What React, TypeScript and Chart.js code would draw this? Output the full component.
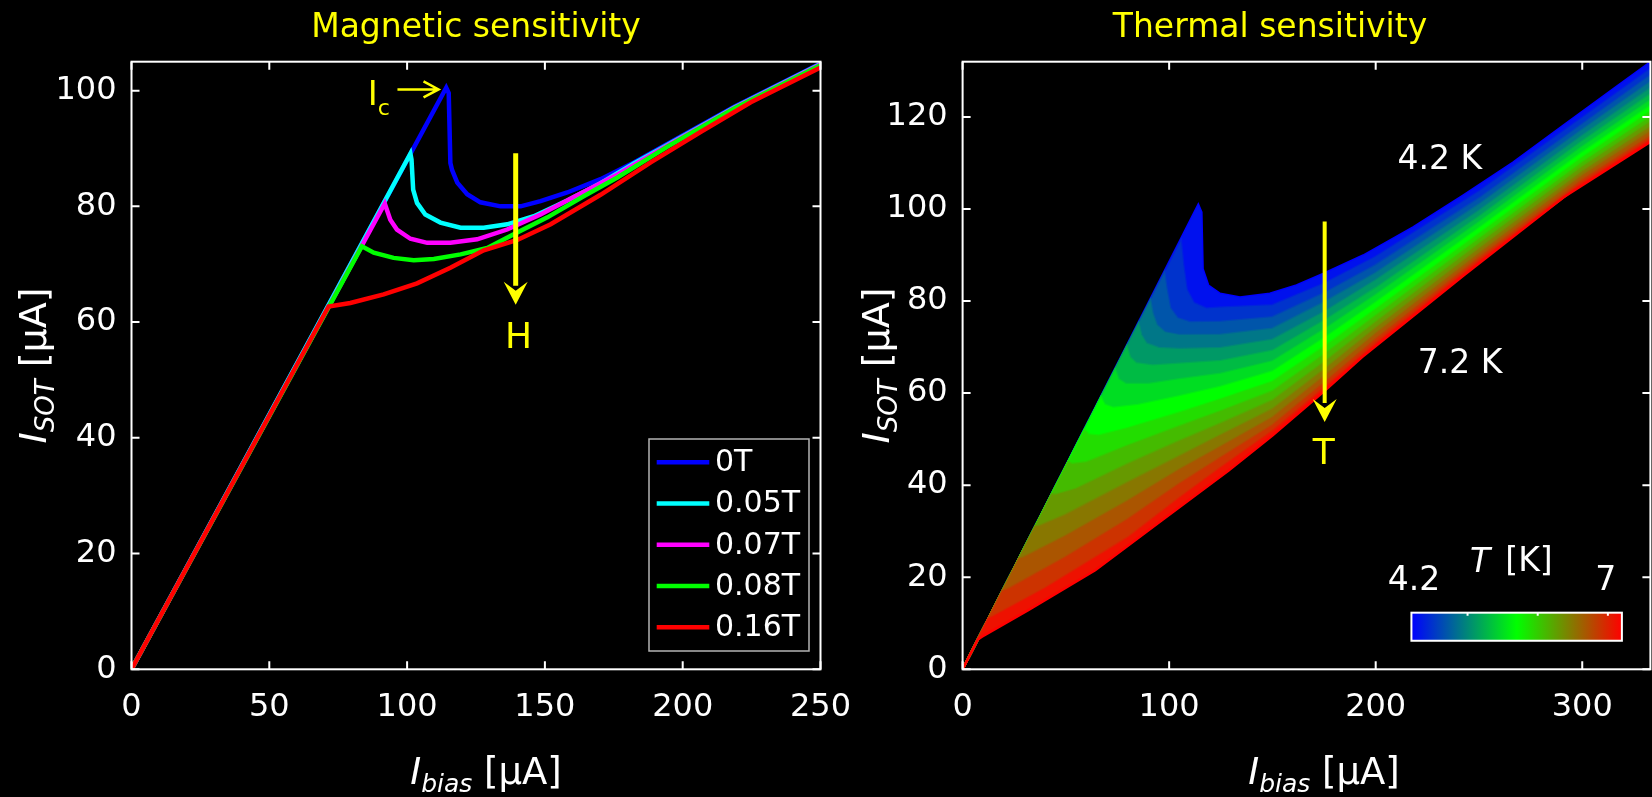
import React, { useEffect, useRef } from 'react';
import { Chart, registerables } from 'chart.js';
Chart.register(...registerables);

const FONT = "'DejaVu Sans', sans-serif";

// ---------- Left panel: magnetic sensitivity ----------
const MAG_LABELS = ['0T', '0.05T', '0.07T', '0.08T', '0.16T'];
const MAG_COLORS = ['#0000ff', '#00ffff', '#ff00ff', '#00ff00', '#ff0000'];
const MAG_X_TICKS = [0, 50, 100, 150, 200, 250];
const MAG_Y_TICKS = [0, 20, 40, 60, 80, 100];

const MAG_0T: number[][] = [[0, 0], [114.2, 100.5], [115.1, 99.6], [115.7, 87.5], [116.3, 86.3], [118.2, 84.1], [121.8, 82.1], [126.6, 80.7], [133.9, 80.0], [141.2, 80.0], [148.4, 80.9], [158.1, 82.4], [170.2, 84.7], [182.3, 87.6], [194.4, 90.8], [218.7, 97.2], [250, 104.7]];
const MAG_005T: number[][] = [[0, 0], [101.2, 89.1], [101.6, 88.1], [102.2, 82.9], [103.6, 80.6], [106.6, 78.6], [112.1, 77.2], [119.4, 76.3], [127.8, 76.3], [136.3, 76.9], [146, 78.3], [158.1, 81.0], [170.2, 84.0], [182.3, 87.4], [194.4, 90.6], [218.7, 97.1], [250, 104.6]];
const MAG_007T: number[][] = [[0, 0], [91.9, 80.5], [93.9, 77.7], [96.3, 76.0], [101.2, 74.4], [107.3, 73.7], [115.7, 73.7], [125.4, 74.3], [136.3, 76.0], [148.4, 78.6], [160.5, 81.6], [176.3, 85.5], [194.4, 90.5], [218.7, 97.0], [250, 104.5]];
const MAG_008T: number[][] = [[0, 0], [83.6, 73.1], [87.9, 72.0], [95.1, 71.1], [102.4, 70.7], [109.7, 70.9], [119.4, 71.7], [129.1, 72.8], [138.7, 75.2], [150.9, 78.1], [164.2, 81.8], [176.3, 85.0], [194.4, 90.3], [218.7, 96.9], [250, 104.4]];
const MAG_016T: number[][] = [[0, 0], [71.5, 62.7], [79.4, 63.3], [91.5, 64.8], [103.6, 66.7], [115.7, 69.4], [127.8, 72.4], [140, 74.2], [152.1, 76.9], [170.2, 82.0], [188.4, 87.6], [206.6, 92.9], [224.7, 98.0], [250, 104.0]];
const MAG_SERIES = [MAG_0T, MAG_005T, MAG_007T, MAG_008T, MAG_016T];

// ---------- Right panel: thermal sensitivity ----------
const TH_X_TICKS = [0, 100, 200, 300];
const TH_Y_TICKS = [0, 20, 40, 60, 80, 100, 120];
const TEMPS = [4.2, 4.4, 4.6, 4.8, 5.0, 5.2, 5.4, 5.6, 5.8, 6.0, 6.2, 6.4, 6.6, 6.8, 7.0, 7.2];
const CBAR_MIN = 4.2;
const CBAR_MAX = 7.2;
const CBAR_TICKS = [5, 6, 7];

const TH_42: number[][] = [[0, 0], [114.1, 100.9], [115.6, 99.3], [116.2, 87], [118.9, 83.4], [124.6, 81.6], [134.3, 80.8], [148.8, 81.6], [161.7, 83.4], [174.6, 85.9], [194, 89.9], [218.2, 96], [242.4, 102.9], [266.6, 110.1], [290.8, 118.1], [315, 126], [333, 131.9]];
const TH_44: number[][] = [[0, 0], [105.7, 93], [106.8, 88], [108.5, 82.5], [112, 79.6], [118, 78.4], [125, 78.6], [150, 79.1], [175, 83.8], [200, 89.6], [250, 103.8], [300, 119.8], [333, 130.4]];
const TH_46: number[][] = [[0, 0], [97.7, 86], [98.8, 82.5], [100.5, 78.5], [104, 76.3], [110, 75.4], [125, 75.5], [150, 76.5], [175, 81.7], [200, 87.8], [250, 102.3], [300, 118.4], [333, 129.0]];
const TH_48: number[][] = [[0, 0], [90.9, 80], [92, 77.3], [94, 74.8], [98, 73.2], [105, 72.6], [125, 72.7], [150, 74.0], [175, 79.7], [200, 86.1], [250, 101.0], [300, 117.2], [333, 127.6]];
const TH_50: number[][] = [[0, 0], [85.2, 75], [86.5, 72.6], [89, 70.8], [95, 69.8], [105, 69.6], [125, 69.8], [150, 71.6], [175, 77.6], [200, 84.5], [250, 99.6], [300, 115.9], [333, 126.2]];
const TH_52: number[][] = [[0, 0], [79.5, 70], [81, 67.8], [84, 66.5], [92, 66.0], [105, 66.4], [125, 67.0], [150, 69.2], [175, 75.7], [200, 82.8], [250, 98.3], [300, 114.7], [333, 124.9]];
const TH_54: number[][] = [[0, 0], [73.9, 65], [75.5, 63], [79, 62], [90, 62.0], [105, 63.0], [125, 64.2], [150, 66.9], [175, 73.8], [200, 81.3], [250, 97.1], [300, 113.5], [333, 123.6]];
const TH_56: number[][] = [[0, 0], [67, 59], [68.8, 57.5], [73, 56.8], [85, 57.4], [105, 59.3], [125, 61.4], [150, 64.7], [175, 71.9], [200, 79.7], [250, 95.8], [300, 112.3], [333, 122.4]];
const TH_58: number[][] = [[0, 0], [59.1, 52], [61, 51.0], [66, 50.8], [80, 52.4], [105, 55.8], [125, 58.7], [150, 62.5], [175, 70.1], [200, 78.2], [250, 94.6], [300, 111.2], [333, 121.2]];
const TH_60: number[][] = [[0, 0], [51.1, 45], [53, 44.6], [60, 45.0], [80, 48.6], [105, 52.8], [125, 56.1], [150, 60.4], [175, 68.4], [200, 76.8], [250, 93.5], [300, 110.1], [333, 120.0]];
const TH_62: number[][] = [[0, 0], [43.2, 38], [45, 37.9], [55, 39.2], [80, 44.6], [105, 49.6], [125, 53.4], [150, 58.4], [175, 66.7], [200, 75.4], [250, 92.4], [300, 109.1], [333, 118.9]];
const TH_64: number[][] = [[0, 0], [35.2, 31], [37, 31.1], [50, 33.6], [80, 40.6], [105, 46.3], [125, 50.9], [150, 56.5], [175, 65.1], [200, 74.1], [250, 91.3], [300, 108.1], [333, 117.8]];
const TH_66: number[][] = [[0, 0], [27.3, 24], [29.5, 24.3], [50, 29.0], [80, 36.6], [105, 43.4], [125, 48.4], [150, 54.7], [175, 63.6], [200, 72.9], [250, 90.3], [300, 107.2], [333, 116.8]];
const TH_68: number[][] = [[0, 0], [19.3, 17], [22, 17.4], [50, 24.4], [80, 32.6], [105, 40.3], [125, 46.0], [150, 53.0], [175, 62.2], [200, 71.7], [250, 89.4], [300, 106.3], [333, 115.8]];
const TH_70: number[][] = [[0, 0], [12.5, 11], [15, 11.5], [40, 17.6], [80, 28.6], [105, 37.2], [125, 43.8], [150, 51.7], [175, 61.1], [200, 70.8], [250, 88.7], [300, 105.6], [333, 115.1]];
const TH_72: number[][] = [[0, 0], [7.4, 6.5], [9.4, 7.1], [32, 12.9], [64.2, 21.5], [96.5, 32.4], [128.8, 43.2], [150, 50.8], [175, 60.4], [193.3, 67.8], [242.4, 85.5], [290.8, 102.5], [333, 114.6]];
const TH_SERIES = [TH_42, TH_44, TH_46, TH_48, TH_50, TH_52, TH_54, TH_56, TH_58, TH_60, TH_62, TH_64, TH_66, TH_68, TH_70, TH_72];

function tempColor(T: number) {
  const f = Math.min(1, Math.max(0, (T - CBAR_MIN) / (CBAR_MAX - CBAR_MIN)));
  let r = 0, g = 0, b = 0;
  if (f < 0.5) { const t = f / 0.5; g = 255 * t; b = 255 * (1 - t); }
  else { const t = (f - 0.5) / 0.5; r = 255 * t; g = 255 * (1 - t); }
  return `rgb(${Math.round(r)},${Math.round(g)},${Math.round(b)})`;
}

type Part = { t: string; size: number; italic?: boolean; dy?: number };

function drawRich(ctx: CanvasRenderingContext2D, parts: Part[], x: number, y: number, color: string, rotate = false) {
  ctx.save();
  ctx.fillStyle = color;
  ctx.textBaseline = 'alphabetic';
  ctx.textAlign = 'left';
  const widths = parts.map((p) => {
    ctx.font = `${p.italic ? 'italic ' : ''}${p.size}px ${FONT}`;
    return ctx.measureText(p.t).width;
  });
  const total = widths.reduce((a, b) => a + b, 0);
  ctx.translate(x, y);
  if (rotate) ctx.rotate(-Math.PI / 2);
  let cx = -total / 2;
  parts.forEach((p, i) => {
    ctx.font = `${p.italic ? 'italic ' : ''}${p.size}px ${FONT}`;
    ctx.fillText(p.t, cx, p.dy || 0);
    cx += widths[i];
  });
  ctx.restore();
}

function drawFrame(chart: any) {
  const { ctx, chartArea: a, scales } = chart;
  ctx.save();
  ctx.strokeStyle = '#ffffff';
  ctx.lineWidth = 2;
  ctx.strokeRect(a.left, a.top, a.right - a.left, a.bottom - a.top);
  const L = 8;
  ctx.beginPath();
  for (const t of scales.x.ticks) {
    const px = scales.x.getPixelForValue(t.value);
    ctx.moveTo(px, a.bottom); ctx.lineTo(px, a.bottom - L);
    ctx.moveTo(px, a.top); ctx.lineTo(px, a.top + L);
  }
  for (const t of scales.y.ticks) {
    const py = scales.y.getPixelForValue(t.value);
    ctx.moveTo(a.left, py); ctx.lineTo(a.left + L, py);
    ctx.moveTo(a.right, py); ctx.lineTo(a.right - L, py);
  }
  ctx.stroke();
  ctx.restore();
}

function downArrow(chart: any, xv: number, yTop: number, yTip: number, w: number) {
  const { ctx, scales } = chart;
  const x = scales.x.getPixelForValue(xv);
  const y0 = scales.y.getPixelForValue(yTop);
  const y1 = scales.y.getPixelForValue(yTip);
  const hl = 23, hw = 12;
  ctx.save();
  ctx.strokeStyle = '#ffff00';
  ctx.fillStyle = '#ffff00';
  ctx.lineWidth = w;
  ctx.beginPath();
  ctx.moveTo(x, y0); ctx.lineTo(x, y1 - hl + 4);
  ctx.stroke();
  ctx.beginPath();
  ctx.moveTo(x, y1);
  ctx.lineTo(x - hw, y1 - hl);
  ctx.lineTo(x, y1 - hl + 9);
  ctx.lineTo(x + hw, y1 - hl);
  ctx.closePath();
  ctx.fill();
  ctx.restore();
}

function axisTitles(chart: any, xCenter: number, yBaseX: number, ySub: string) {
  const { ctx, chartArea: a } = chart;
  drawRich(ctx, [
    { t: 'I', size: 37, italic: true },
    { t: 'bias', size: 25, italic: true, dy: 8 },
    { t: ' [µA]', size: 37 },
  ], xCenter, 784, '#ffffff');
  drawRich(ctx, [
    { t: 'I', size: 38, italic: true },
    { t: ySub, size: 26, italic: true, dy: 8 },
    { t: ' [µA]', size: 38 },
  ], yBaseX, (a.top + a.bottom) / 2, '#ffffff', true);
}

const leftDecor = {
  id: 'leftDecor',
  afterDraw(chart: any) {
    const { ctx, chartArea: a, scales } = chart;
    drawFrame(chart);
    ctx.save();
    ctx.font = `33px ${FONT}`;
    ctx.fillStyle = '#ffff00';
    ctx.textAlign = 'center';
    ctx.fillText('Magnetic sensitivity', 476, 37);
    ctx.restore();
    axisTitles(chart, 486, 46, 'SOT');

    // I_c annotation
    const sx = (v: number) => scales.x.getPixelForValue(v);
    const sy = (v: number) => scales.y.getPixelForValue(v);
    drawRich(ctx, [{ t: 'I', size: 34 }, { t: 'c', size: 22, dy: 10 }], sx(89.7), sy(97.6), '#ffff00');
    const ax0 = sx(96.5), ax1 = sx(111.4), ay = sy(100.2);
    ctx.save();
    ctx.strokeStyle = '#ffff00';
    ctx.lineWidth = 2.5;
    ctx.beginPath();
    ctx.moveTo(ax0, ay); ctx.lineTo(ax1, ay);
    ctx.moveTo(ax1 - 15, ay - 8); ctx.lineTo(ax1, ay); ctx.lineTo(ax1 - 15, ay + 8);
    ctx.stroke();
    ctx.restore();

    downArrow(chart, 139.4, 89.2, 63.0, 5);
    ctx.save();
    ctx.font = `36px ${FONT}`;
    ctx.fillStyle = '#ffff00';
    ctx.textAlign = 'center';
    ctx.fillText('H', sx(140.4), sy(55.6));
    ctx.restore();

    // legend
    const bw = 160, bh = 212;
    const bx = a.right - 11.5 - bw, by = a.bottom - 18.3 - bh;
    ctx.save();
    ctx.fillStyle = '#000';
    ctx.fillRect(bx, by, bw, bh);
    ctx.strokeStyle = '#b4b4b4';
    ctx.lineWidth = 1.5;
    ctx.strokeRect(bx, by, bw, bh);
    ctx.font = `30px ${FONT}`;
    ctx.textBaseline = 'middle';
    ctx.textAlign = 'left';
    MAG_LABELS.forEach((lab, i) => {
      const ly = by + 23.3 + i * 41.25;
      ctx.strokeStyle = MAG_COLORS[i];
      ctx.lineWidth = 4.5;
      ctx.beginPath();
      ctx.moveTo(bx + 7.7, ly); ctx.lineTo(bx + 60.3, ly);
      ctx.stroke();
      ctx.fillStyle = '#fff';
      ctx.fillText(lab, bx + 66, ly + 1);
    });
    ctx.restore();
  },
};

const rightDecor = {
  id: 'rightDecor',
  afterDraw(chart: any) {
    const { ctx, scales } = chart;
    drawFrame(chart);
    ctx.save();
    ctx.font = `33px ${FONT}`;
    ctx.fillStyle = '#ffff00';
    ctx.textAlign = 'center';
    ctx.fillText('Thermal sensitivity', 444, 37);
    ctx.restore();
    axisTitles(chart, 498, 63, 'SOT');

    const sx = (v: number) => scales.x.getPixelForValue(v);
    const sy = (v: number) => scales.y.getPixelForValue(v);
    downArrow(chart, 175.3, 97.3, 53.7, 4);
    ctx.save();
    ctx.textAlign = 'center';
    ctx.font = `36px ${FONT}`;
    ctx.fillStyle = '#ffff00';
    ctx.fillText('T', sx(174.9), sy(44.7));
    ctx.font = `33px ${FONT}`;
    ctx.fillStyle = '#ffffff';
    ctx.fillText('4.2 K', sx(231.1), sy(108.7));
    ctx.fillText('7.2 K', sx(240.8), sy(64.3));

    // colorbar
    const x0 = sx(217.3), x1 = sx(319.2), y0 = sy(12.3), y1 = sy(6.2);
    const grad = ctx.createLinearGradient(x0, 0, x1, 0);
    grad.addColorStop(0, tempColor(CBAR_MIN));
    grad.addColorStop(0.5, tempColor((CBAR_MIN + CBAR_MAX) / 2));
    grad.addColorStop(1, tempColor(CBAR_MAX));
    ctx.fillStyle = grad;
    ctx.fillRect(x0, y0, x1 - x0, y1 - y0);
    ctx.strokeStyle = '#fff';
    ctx.lineWidth = 2;
    ctx.strokeRect(x0, y0, x1 - x0, y1 - y0);
    ctx.beginPath();
    CBAR_TICKS.forEach((t) => {
      const px = x0 + ((t - CBAR_MIN) / (CBAR_MAX - CBAR_MIN)) * (x1 - x0);
      ctx.moveTo(px, y0); ctx.lineTo(px, y0 + 3);
    });
    ctx.stroke();
    ctx.fillStyle = '#fff';
    ctx.font = `33px ${FONT}`;
    ctx.fillText('4.2', sx(218.5), sy(17.2));
    ctx.fillText('7', sx(311.4), sy(17.2));
    ctx.font = `italic 33px ${FONT}`;
    ctx.fillText('T', sx(250.5), sy(21.1));
    ctx.font = `33px ${FONT}`;
    ctx.fillText('[K]', sx(274.2), sy(21.3));
    ctx.restore();
  },
};

function scaleOpts(min: number, max: number, ticks: number[], axis: 'x' | 'y', fixed: number) {
  return {
    type: 'linear' as const,
    min,
    max,
    grid: { display: false, drawTicks: false },
    border: { display: false },
    ticks: {
      color: '#ffffff',
      font: { family: FONT, size: 32 },
      padding: axis === 'x' ? 19 : 15,
      maxRotation: 0,
      autoSkip: false,
    },
    afterBuildTicks: (s: any) => { s.ticks = ticks.map((v) => ({ value: v })); },
    afterFit: (s: any) => {
      if (axis === 'x') s.height = fixed; else s.width = fixed;
      s.paddingLeft = 0; s.paddingRight = 0; s.paddingTop = 0; s.paddingBottom = 0;
    },
  };
}

const LEFT_W = 880;

export default function App() {
  const leftRef = useRef<HTMLCanvasElement>(null);
  const rightRef = useRef<HTMLCanvasElement>(null);

  useEffect(() => {
    document.body.style.margin = '0';
    document.body.style.background = '#000';
    const left = new Chart(leftRef.current!, {
      type: 'line',
      data: {
        datasets: MAG_SERIES.map((s, i) => ({
          label: MAG_LABELS[i],
          data: s.map(([x, y]) => ({ x, y })),
          borderColor: MAG_COLORS[i],
          borderWidth: 4.5,
          pointRadius: 0,
          fill: false,
          tension: 0,
          order: MAG_SERIES.length - 1 - i,
        })),
      },
      options: {
        responsive: false,
        animation: false,
        devicePixelRatio: 1,
        events: [],
        layout: { padding: { left: 0, right: LEFT_W - 820.5, top: 61.7, bottom: 0 } },
        plugins: { legend: { display: false }, tooltip: { enabled: false }, title: { display: false } },
        scales: {
          x: scaleOpts(0, 250, MAG_X_TICKS, 'x', 127.7),
          y: scaleOpts(0, 105, MAG_Y_TICKS, 'y', 131.5),
        },
      } as any,
      plugins: [leftDecor],
    });
    const right = new Chart(rightRef.current!, {
      type: 'line',
      data: {
        datasets: TH_SERIES.map((s, i) => ({
          label: `${TEMPS[i]} K`,
          data: s.map(([x, y]) => ({ x, y })),
          borderColor: tempColor(TEMPS[i]),
          backgroundColor: i === 0 ? tempColor(TEMPS[0]) : tempColor((TEMPS[i] + TEMPS[i - 1]) / 2),
          borderWidth: 2.5,
          pointRadius: 0,
          fill: i === 0 ? false : '-1',
          tension: 0,
          order: -i,
        })),
      },
      options: {
        responsive: false,
        animation: false,
        devicePixelRatio: 1,
        events: [],
        layout: { padding: { left: 0, right: 1.6, top: 61.7, bottom: 0 } },
        plugins: { legend: { display: false }, tooltip: { enabled: false }, title: { display: false } },
        scales: {
          x: scaleOpts(0, 333, TH_X_TICKS, 'x', 127.7),
          y: scaleOpts(0, 132, TH_Y_TICKS, 'y', 136.6),
        },
      } as any,
      plugins: [rightDecor],
    });
    return () => { left.destroy(); right.destroy(); };
  }, []);

  return (
    <div style={{ position: 'absolute', left: 0, top: 0, width: 1652, height: 797, background: '#000', overflow: 'hidden' }}>
      <canvas ref={leftRef} width={LEFT_W} height={797} style={{ position: 'absolute', left: 0, top: 0 }} />
      <canvas ref={rightRef} width={826} height={797} style={{ position: 'absolute', left: 826, top: 0 }} />
    </div>
  );
}
